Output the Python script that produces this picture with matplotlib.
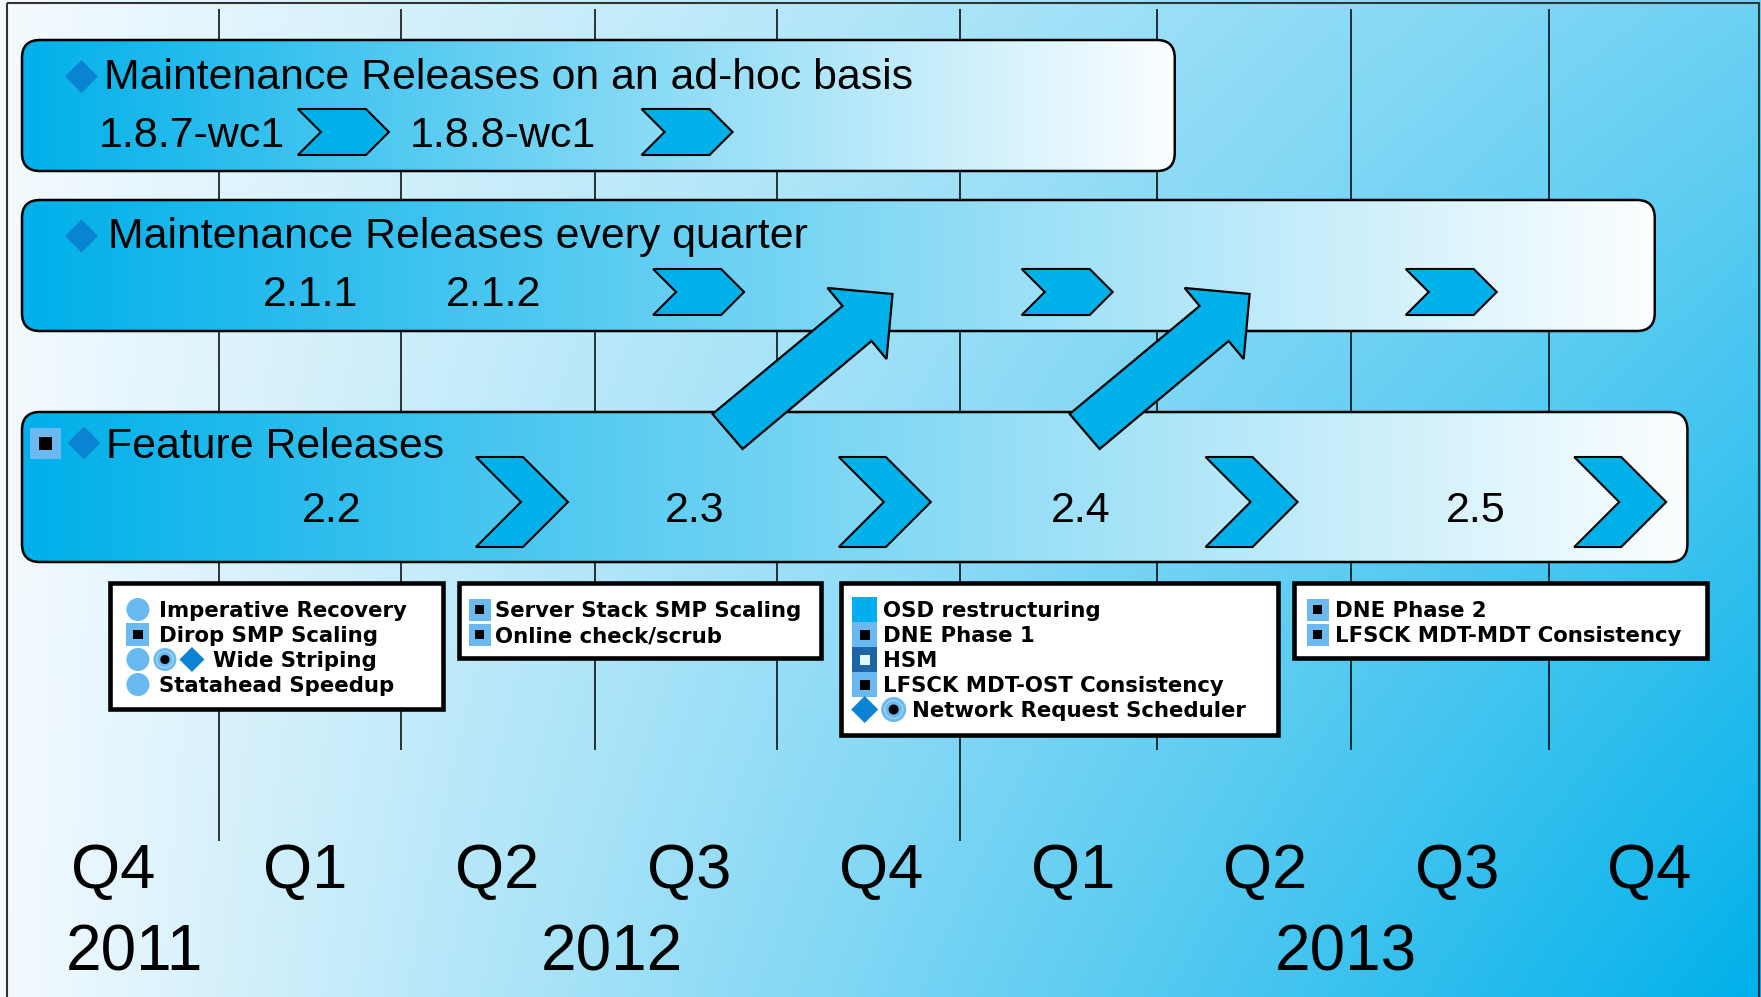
import numpy as np
import matplotlib
matplotlib.use("Agg")
import matplotlib.pyplot as plt
from matplotlib.patches import FancyBboxPatch, Polygon, Rectangle, Circle

W, H = 1761, 997

# ------------------------------------------------------------------ data
quarter_labels = ["Q4", "Q1", "Q2", "Q3", "Q4", "Q1", "Q2", "Q3", "Q4"]
year_labels = ["2011", "2012", "2013"]
year_pos = [0.11, 2.60, 6.42]                 # in quarters (0 = Q4 2011)
grid_pos = [0.55, 1.50, 2.51, 3.46, 4.41, 5.44, 6.45, 7.48]
year_boundaries = [0.55, 4.41]

track_titles = ["Maintenance Releases on an ad-hoc basis",
                "Maintenance Releases every quarter",
                "Feature Releases"]
track_end = [5.53, 8.03, 8.20]

track1_versions = ["1.8.7-wc1", "1.8.8-wc1"]
track1_version_pos = [0.41, 2.03]
track1_chevrons = [1.20, 2.99]

track2_versions = ["2.1.1", "2.1.2"]
track2_version_pos = [1.03, 1.98]
track2_chevrons = [3.05, 4.97, 6.97]

track3_versions = ["2.2", "2.3", "2.4", "2.5"]
track3_version_pos = [1.14, 3.03, 5.04, 7.10]
track3_chevrons = [2.13, 4.02, 5.93, 7.85]

promotion_arrows = [4.06, 5.92]   # tip positions in quarters

feature_box_span = [(-0.016, 1.72), (1.80, 3.69), (3.79, 6.07), (6.15, 8.30)]
features_22 = [("c", "Imperative Recovery"), ("s", "Dirop SMP Scaling"),
               ("crd", "Wide Striping"), ("c", "Statahead Speedup")]
features_23 = [("s", "Server Stack SMP Scaling"), ("s", "Online check/scrub")]
features_24 = [("o", "OSD restructuring"), ("s", "DNE Phase 1"), ("h", "HSM"),
               ("s", "LFSCK MDT-OST Consistency"), ("dr", "Network Request Scheduler")]
features_25 = [("s", "DNE Phase 2"), ("s", "LFSCK MDT-MDT Consistency")]
feature_lists = [features_22, features_23, features_24, features_25]

# ------------------------------------------------------------------ style
X0, QW = 113, 192.0
def qx(q):
    return X0 + QW * q

CYAN = np.array([0, 176, 234]) / 255
WHITE = np.array([252, 254, 255]) / 255
LIGHT = np.array([244, 250, 254]) / 255
LB = "#6ab9f0"
DIAM = "#0a84d2"
FILL = "#00b0e8"
SANS = "Liberation Sans"

fig = plt.figure(figsize=(W / 100, H / 100), dpi=100)
ax = fig.add_axes([0, 0, 1, 1])

# background gradient
yy, xx = np.mgrid[0:H:2, 0:W:2]
u = xx / W
v = yy / H
s = np.clip(u * (0.55 + 0.45 * v), 0, 1)
bg = LIGHT + (CYAN - LIGHT) * s[..., None]
ax.imshow(bg, extent=(0, W, H, 0), zorder=0, interpolation="bilinear", aspect="auto")

# outer frame
ax.add_patch(Rectangle((7, 3), 1752, 1010, fc="none", ec="#333333", lw=1.5, zorder=1))

# grid lines
for g in grid_pos:
    y1 = 841 if g in year_boundaries else 750
    ax.plot([qx(g), qx(g)], [9, y1], color="black", lw=1.1, zorder=1, solid_capstyle="butt")


def track_box(x1, y0, y1):
    x0 = 22
    patch = FancyBboxPatch((x0, y0), x1 - x0, y1 - y0,
                           boxstyle="round,pad=0,rounding_size=18",
                           fc="none", ec="black", lw=1.8, zorder=3)
    ax.add_patch(patch)
    t = np.linspace(0, 1, 256)
    grad = CYAN + (WHITE - CYAN) * t[:, None]
    im = ax.imshow(grad[None, :, :], extent=(x0, x1, y1, y0), zorder=2,
                   aspect="auto", interpolation="bilinear")
    im.set_clip_path(patch)


def chevron(qc, ym, w, h, z=4):
    x0 = qx(qc) - w / 2
    sl = h / 2
    pts = [(x0, ym - h / 2), (x0 + w - sl, ym - h / 2), (x0 + w, ym),
           (x0 + w - sl, ym + h / 2), (x0, ym + h / 2), (x0 + sl, ym)]
    ax.add_patch(Polygon(pts, closed=True, fc=FILL, ec="black", lw=1.5, zorder=z,
                         joinstyle="miter"))


def diamond(cx, cy, r, color=DIAM, z=4):
    ax.add_patch(Polygon([(cx - r, cy), (cx, cy - r), (cx + r, cy), (cx, cy + r)],
                         closed=True, fc=color, ec="none", zorder=z))


def sq_icon(cx, cy, sz, color, inner=None, z=6):
    ax.add_patch(Rectangle((cx - sz / 2, cy - sz / 2), sz, sz, fc=color, ec="none", zorder=z))
    if inner is not None:
        i = sz * 0.4
        ax.add_patch(Rectangle((cx - i / 2, cy - i / 2), i, i, fc=inner, ec="none", zorder=z + 0.1))


# track boxes
track_rows = [(40, 171), (200, 331), (412, 562)]
for (y0, y1), end in zip(track_rows, track_end):
    track_box(qx(end), y0, y1)

# titles
title_base = [89, 248, 458]
title_x = [104, 108, 106]
diamond_c = [(81.5, 76.5), (81.5, 236), (84, 443)]
for t, b, x, (dx, dy) in zip(track_titles, title_base, title_x, diamond_c):
    ax.text(x, b, t, fontsize=30.8, family=SANS, va="baseline", ha="left", zorder=5)
    diamond(dx, dy, 16.5)
sq_icon(45.5, 443.5, 31, LB, inner="black", z=5)

# versions + chevrons
ver_base = [147, 306, 522]
for names, pos, b in zip([track1_versions, track2_versions, track3_versions],
                         [track1_version_pos, track2_version_pos, track3_version_pos],
                         ver_base):
    for n, p in zip(names, pos):
        ax.text(qx(p), b, n, fontsize=31, family=SANS, va="baseline", ha="center", zorder=5)

for c in track1_chevrons:
    chevron(c, 132, 91, 46)
for c in track2_chevrons:
    chevron(c, 292, 91, 46)
for c in track3_chevrons:
    chevron(c, 502, 92, 90)

# promotion arrows (diagonal)
arrow_shape = [(-180, 120), (-150, 155), (-21, 47), (-6, 65), (0, 0), (-65, -6), (-50, 12)]
for q in promotion_arrows:
    tx, ty = qx(q), 294
    pts = [(tx + dx, ty + dy) for dx, dy in arrow_shape]
    ax.add_patch(Polygon(pts, closed=True, fc=FILL, ec="black", lw=1.6, zorder=7,
                         joinstyle="miter"))

# feature boxes
icon_off = [28, 21, 24, 24]
icon_sz = [23, 22, 25, 22]
text_gap = [10, 4, 6, 6]
box_top = 583
for (qa, qb), items, off, sz, gap in zip(feature_box_span, feature_lists, icon_off, icon_sz, text_gap):
    xa, xb = qx(qa), qx(qb)
    hgt = 24 + 25.5 * len(items)
    ax.add_patch(Rectangle((xa, box_top), xb - xa, hgt, fc="white", ec="black",
                           lw=3.3, zorder=5, joinstyle="miter"))
    for k, (kinds, label) in enumerate(items):
        base = 617 + 25 * k
        cy = base - 7.5
        cx = xa + off
        for j, kind in enumerate(kinds):
            if j > 0:
                cx += sz + 4
            if kind == "c":
                ax.add_patch(Circle((cx, cy), sz / 2, fc=LB, ec="none", zorder=6))
            elif kind == "r":
                ax.add_patch(Circle((cx, cy), sz / 2, fc=LB, ec="none", zorder=6))
                ax.add_patch(Circle((cx, cy), sz * 0.36, fc="none", ec="#9fd4f7", lw=1.0, zorder=6.1))
                ax.add_patch(Circle((cx, cy), sz * 0.2, fc="black", ec="none", zorder=6.2))
            elif kind == "d":
                diamond(cx, cy, sz / 2 + 1, z=6)
            elif kind == "s":
                sq_icon(cx, cy, sz, LB, inner="black")
            elif kind == "o":
                sq_icon(cx, cy, sz, "#00aeef")
            elif kind == "h":
                sq_icon(cx, cy, sz, "#1d65a6", inner="#dffaff")
        ax.text(cx + sz / 2 + gap, base, label, fontsize=15.3, family="DejaVu Sans",
                weight="bold", va="baseline", ha="left", zorder=7)

# timeline labels
for i, ql in enumerate(quarter_labels):
    ax.text(qx(i), 888, ql, fontsize=45.5, family=SANS, va="baseline", ha="center", zorder=5)
for yl, p in zip(year_labels, year_pos):
    ax.text(qx(p), 970, yl, fontsize=46, family=SANS, va="baseline", ha="center", zorder=5)

ax.set_xlim(0, W)
ax.set_ylim(H, 0)
ax.axis("off")
fig.savefig("out.png", dpi=100)
